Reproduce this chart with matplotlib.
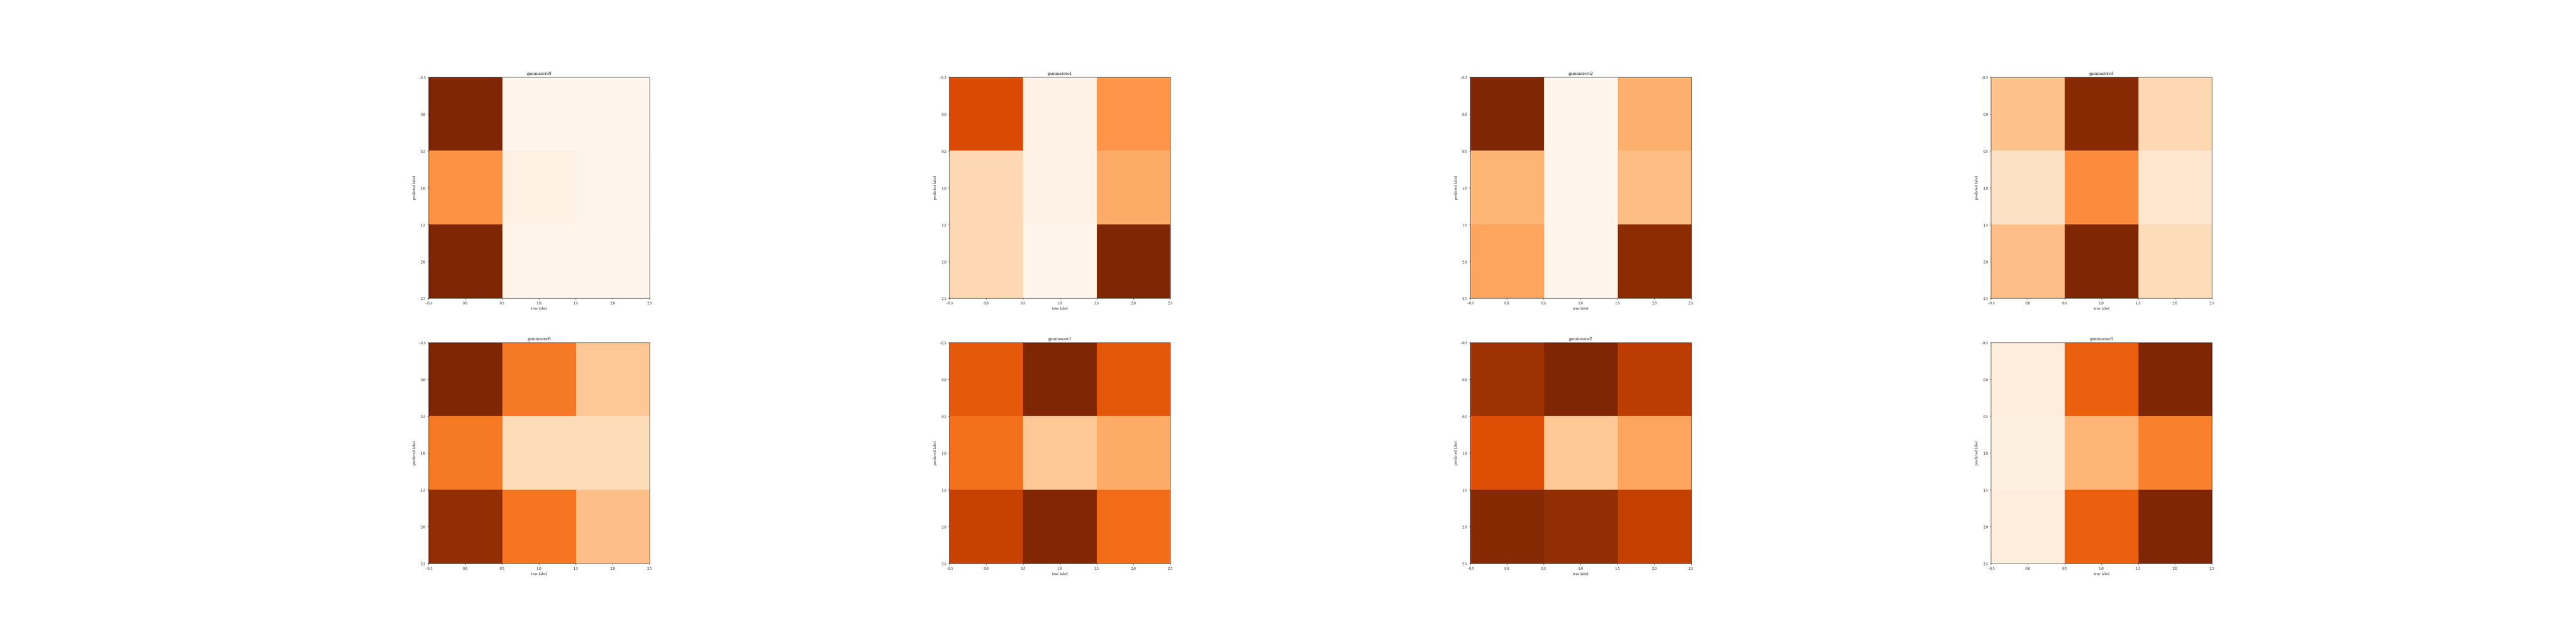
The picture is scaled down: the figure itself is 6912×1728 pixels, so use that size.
"""
Confusion-matrix style heatmaps, one per model run (gammazero*/gammaone*).
"""

import matplotlib
matplotlib.use("Agg")
import matplotlib.pyplot as plt
import numpy as np

plt.rcParams.update(
    {
        "font.family": "serif",
        "font.serif": ["cmr10"],
        "mathtext.fontset": "cm",
        "axes.formatter.use_mathtext": True,
        "font.size": 10,
    }
)

TITLES = [
    "gammazero0", "gammazero1", "gammazero2", "gammazero3",
    "gammaone0", "gammaone1", "gammaone2", "gammaone3",
]

# cell intensities (0 = lightest, 1 = darkest)
gammazero0 = [[1.00, 0.00, 0.00],
              [0.48, 0.03, 0.01],
              [1.00, 0.01, 0.00]]
gammazero1 = [[0.74, 0.02, 0.47],
              [0.20, 0.02, 0.38],
              [0.20, 0.00, 1.00]]
gammazero2 = [[1.00, 0.00, 0.37],
              [0.35, 0.00, 0.32],
              [0.41, 0.00, 0.95]]
gammazero3 = [[0.30, 0.97, 0.20],
              [0.15, 0.50, 0.12],
              [0.31, 1.00, 0.18]]
gammaone0 = [[1.00, 0.57, 0.28],
             [0.57, 0.18, 0.18],
             [0.94, 0.58, 0.31]]
gammaone1 = [[0.68, 1.00, 0.69],
             [0.60, 0.28, 0.38],
             [0.79, 0.99, 0.61]]
gammaone2 = [[0.90, 1.00, 0.82],
             [0.72, 0.28, 0.41],
             [0.98, 0.94, 0.80]]
gammaone3 = [[0.07, 0.66, 1.00],
             [0.04, 0.35, 0.54],
             [0.06, 0.66, 1.00]]

MATRICES = [gammazero0, gammazero1, gammazero2, gammazero3,
            gammaone0, gammaone1, gammaone2, gammaone3]

fig, axes = plt.subplots(2, 4, figsize=(96, 24), dpi=72)
fig.subplots_adjust(top=0.88, bottom=0.125, hspace=0.2)

for ax, title, mat in zip(axes.flat, TITLES, MATRICES):
    ax.imshow(np.array(mat), cmap="Oranges", vmin=0, vmax=1)
    ax.set_title(title)
    ax.set_xlabel("true label")
    ax.set_ylabel("predicted label")

fig.savefig("out.png", dpi=72)
